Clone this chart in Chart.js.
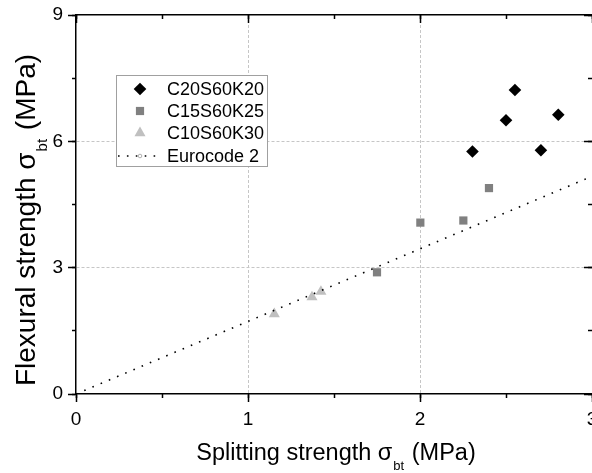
<!DOCTYPE html>
<html>
<head>
<meta charset="utf-8">
<script src="https://cdn.jsdelivr.net/npm/chart.js@4.4.0/dist/chart.umd.min.js"></script>
<style>
  html, body { margin: 0; padding: 0; background: #fff; }
  canvas { display: block; }
</style>
</head>
<body>
<canvas id="chart" width="592" height="473"></canvas>
<script>
// data
const seriesNames = ['C20S60K20', 'C15S60K25', 'C10S60K30', 'Eurocode 2'];
const c20X = [2.305, 2.50, 2.552, 2.703, 2.804];
const c20Y = [5.76, 6.50, 7.22, 5.79, 6.63];
const c15X = [1.75, 2.002, 2.252, 2.401];
const c15Y = [2.89, 4.07, 4.12, 4.89];
const c10X = [1.153, 1.372, 1.424];
const c10Y = [1.90, 2.30, 2.43];
const eurocodeX = [0, 3];
const eurocodeY = [0, 5.17];

const xTicks = [0, 1, 2, 3];
const xMinorTicks = [0, 0.5, 1, 1.5, 2, 2.5, 3];
const yTicks = [0, 3, 6, 9];
const yMinorTicks = [0, 1.5, 3, 4.5, 6, 7.5, 9];
const xTitle = ['Splitting strength σ', 'bt', ' (MPa)'];
const yTitle = ['Flexural strength σ', 'bt', ' (MPa)'];

const FONT = "'Liberation Sans', Arial, sans-serif";

const toPoints = (xs, ys) => xs.map((x, i) => ({ x: x, y: ys[i] }));
const setTicks = list => scale => { scale.ticks = list.map(v => ({ value: v })); };

// one axis (major or minor ticks, any side)
function axis(position, range, ticks, opts) {
  const horizontal = position === 'top' || position === 'bottom';
  return {
    type: 'linear',
    position: position,
    min: range[0],
    max: range[1],
    weight: opts.weight || 0,
    afterBuildTicks: setTicks(ticks),
    afterFit: scale => {
      if (horizontal) scale.height = opts.size; else scale.width = opts.size;
      // the last label may run off the canvas, as in the original
      scale.paddingLeft = scale.paddingRight = 0;
      scale.paddingTop = scale.paddingBottom = 0;
    },
    ticks: opts.labels ? {
      display: true,
      color: '#000',
      font: { family: FONT, size: 19 },
      padding: opts.labelPad,
      maxRotation: 0,
      autoSkip: false,
      callback: v => String(v)
    } : { display: false },
    grid: {
      drawOnChartArea: !!opts.grid,
      color: c => (c.tick && c.tick.value > range[0] && c.tick.value < range[1]) ? '#c6c6c6' : 'rgba(0,0,0,0)',
      lineWidth: 1,
      tickColor: '#000',
      tickWidth: 1.5,
      tickLength: opts.tickLength
    },
    border: {
      display: !!opts.border,
      color: '#000',
      width: 1.5,
      dash: [3, 2]
    }
  };
}

// legend box and axis titles with subscripts
const decorPlugin = {
  id: 'decor',
  afterDraw(chart) {
    const ctx = chart.ctx;

    const drawTitle = (parts, size, subSize, drop) => {
      const main = size + 'px ' + FONT;
      const sub = subSize + 'px ' + FONT;
      ctx.font = main;
      const w0 = ctx.measureText(parts[0]).width;
      const w2 = ctx.measureText(parts[2]).width;
      ctx.font = sub;
      const w1 = ctx.measureText(parts[1]).width;
      let x = -(w0 + w1 + w2) / 2;
      ctx.fillStyle = '#000';
      ctx.textAlign = 'left';
      ctx.textBaseline = 'alphabetic';
      ctx.font = main;
      ctx.fillText(parts[0], x, 0);
      x += w0 + 1;
      ctx.font = sub;
      ctx.fillText(parts[1], x, drop);
      x += w1 + 1;
      ctx.font = main;
      ctx.fillText(parts[2], x, 0);
    };

    ctx.save();
    ctx.translate(335, 460);
    drawTitle(xTitle, 23.5, 13, 10);
    ctx.restore();

    ctx.save();
    ctx.translate(35, 221);
    ctx.rotate(-Math.PI / 2);
    drawTitle(yTitle, 28, 15, 12);
    ctx.restore();

    // legend
    ctx.save();
    ctx.fillStyle = '#fff';
    ctx.fillRect(117, 75, 151, 92);
    ctx.strokeStyle = '#a0a0a0';
    ctx.lineWidth = 1;
    ctx.strokeRect(116.5, 75.5, 151, 91);

    const rows = [89, 111, 133, 156];
    const symX = 140;
    chart.data.datasets.forEach((ds, i) => {
      const y = rows[i];
      if (ds.showLine) {
        ctx.strokeStyle = ds.borderColor;
        ctx.lineWidth = ds.borderWidth;
        ctx.setLineDash(ds.borderDash);
        ctx.beginPath();
        ctx.moveTo(118, y);
        ctx.lineTo(160, y);
        ctx.stroke();
        ctx.setLineDash([]);
        ctx.fillStyle = '#fff';
        ctx.strokeStyle = '#b0b0b0';
        ctx.lineWidth = 1;
        ctx.beginPath();
        ctx.arc(symX, y, 1.8, 0, Math.PI * 2);
        ctx.fill();
        ctx.stroke();
      } else {
        ctx.fillStyle = ds.backgroundColor;
        Chart.helpers.drawPoint(ctx, {
          pointStyle: ds.pointStyle,
          radius: ds.pointRadius,
          rotation: 0,
          borderWidth: 0
        }, symX, y);
      }
      ctx.fillStyle = '#000';
      ctx.font = '18px ' + FONT;
      ctx.textAlign = 'left';
      ctx.textBaseline = 'middle';
      ctx.fillText(ds.label, 167, y + 1);
    });
    ctx.restore();
  }
};

new Chart(document.getElementById('chart'), {
  type: 'scatter',
  data: {
    datasets: [
      {
        label: seriesNames[0],
        data: toPoints(c20X, c20Y),
        pointStyle: 'rectRot',
        pointRadius: 6.3,
        backgroundColor: '#000',
        borderWidth: 0,
        order: 1
      },
      {
        label: seriesNames[1],
        data: toPoints(c15X, c15Y),
        pointStyle: 'rect',
        pointRadius: 5.8,
        backgroundColor: '#808080',
        borderWidth: 0,
        order: 1
      },
      {
        label: seriesNames[2],
        data: toPoints(c10X, c10Y),
        pointStyle: 'triangle',
        pointRadius: 6.4,
        backgroundColor: '#c0c0c0',
        borderWidth: 0,
        order: 1
      },
      {
        label: seriesNames[3],
        data: toPoints(eurocodeX, eurocodeY),
        showLine: true,
        borderColor: '#000',
        borderWidth: 1.6,
        borderDash: [1.6, 7.3],
        pointRadius: 0,
        order: 0
      }
    ]
  },
  options: {
    responsive: false,
    animation: false,
    layout: { autoPadding: false, padding: { top: 15, right: 0, bottom: 0, left: 0 } },
    plugins: {
      legend: { display: false },
      tooltip: { enabled: false }
    },
    scales: {
      x: axis('bottom', [0, 3], xTicks, { size: 79, weight: 1, labels: true, labelPad: 6, grid: true, border: true, tickLength: 8 }),
      xMinor: axis('bottom', [0, 3], xMinorTicks, { size: 0, weight: 0, tickLength: 4 }),
      xTop: axis('top', [0, 3], xTicks, { size: 0, border: true, tickLength: -8 }),
      xTopMinor: axis('top', [0, 3], xMinorTicks, { size: 0, tickLength: -4 }),
      y: axis('left', [0, 9], yTicks, { size: 76, weight: 1, labels: true, labelPad: 5, grid: true, border: true, tickLength: 8 }),
      yMinor: axis('left', [0, 9], yMinorTicks, { size: 0, weight: 0, tickLength: 4 }),
      yRight: axis('right', [0, 9], yTicks, { size: 0, tickLength: -8 }),
      yRightMinor: axis('right', [0, 9], yMinorTicks, { size: 0, tickLength: -4 })
    }
  },
  plugins: [decorPlugin]
});
</script>
</body>
</html>
